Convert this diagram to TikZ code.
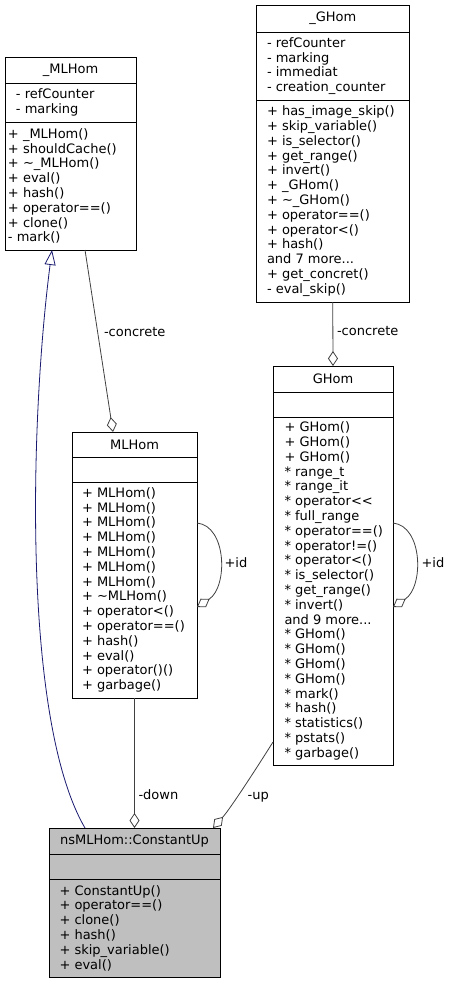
\documentclass[tikz,border=0pt]{standalone}
\usepackage{fontspec}
\setmainfont{DejaVu Sans}
\usetikzlibrary{positioning,arrows.meta,calc}
\definecolor{edgegray}{HTML}{404040}
\definecolor{inhblue}{HTML}{191970}
\definecolor{cupgray}{HTML}{BFBFBF}
\begin{document}
\begin{tikzpicture}[x=1pt, y=-1pt,
    every node/.style = {inner sep=0pt, outer sep=0pt, font=\fontsize{13}{14.8}\selectfont},
    head/.style = {draw, line width=0.9pt, anchor=north, minimum height=26pt},
    part/.style = {draw, line width=0.9pt},
    txt/.style = {align=left},
    lbl/.style = {anchor=west, text height=9.5pt, text depth=2.5pt},
    has/.style = {draw=edgegray, line width=0.8pt, -{Diamond[open, length=15pt, width=10pt]}},
    inherit/.style = {draw=inhblue, line width=0.8pt, -{Triangle[open, length=15pt, width=11pt]}}]
    \useasboundingbox (0,0) rectangle (451,984);
    % _MLHom
    \node[head, minimum width=131pt] (mlbase) at (70.5,57) {\_MLHom};
    \node[part, minimum width=131pt, minimum height=39pt, below=0pt of mlbase] (mlbase-a) {};
    \node[part, minimum width=131pt, minimum height=128pt, below=0pt of mlbase-a] (mlbase-m) {};
    \node[txt, right=11pt of mlbase-a.west] (mlbase-at) {- refCounter\\- marking};
    \node[txt, right=3pt of mlbase-m.west] (mlbase-mt) {+ \_MLHom()\\+ shouldCache()\\+ \textasciitilde\_MLHom()\\+ eval()\\+ hash()\\+ operator==()\\+ clone()\\- mark()};
    % _GHom
    \node[head, minimum width=152.5pt, minimum height=27pt] (ghombase) at (332.75,5) {\_GHom};
    \node[part, minimum width=152.5pt, minimum height=68pt, below=0pt of ghombase] (ghombase-a) {};
    \node[part, minimum width=152.5pt, minimum height=202pt, below=0pt of ghombase-a] (ghombase-m) {};
    \node[txt, right=10.5pt of ghombase-a.west] (ghombase-at) {- refCounter\\- marking\\- immediat\\- creation\_counter};
    \node[txt, right=10.5pt of ghombase-m.west] (ghombase-mt) {+ has\_image\_skip()\\+ skip\_variable()\\+ is\_selector()\\+ get\_range()\\+ invert()\\+ \_GHom()\\+ \textasciitilde\_GHom()\\+ operator==()\\+ operator<()\\+ hash()\\and 7 more...\\+ get\_concret()\\- eval\_skip()};
    % MLHom
    \node[head, minimum width=125pt, minimum height=25pt] (mlhom) at (134.5,432) {MLHom};
    \node[part, minimum width=125pt, minimum height=25pt, below=0pt of mlhom] (mlhom-a) {};
    \node[part, minimum width=125pt, minimum height=216pt, below=0pt of mlhom-a] (mlhom-m) {};
    \node[txt, right=10pt of mlhom-m.west] (mlhom-mt) {+ MLHom()\\+ MLHom()\\+ MLHom()\\+ MLHom()\\+ MLHom()\\+ MLHom()\\+ MLHom()\\+ \textasciitilde MLHom()\\+ operator<()\\+ operator==()\\+ hash()\\+ eval()\\+ operator()()\\+ garbage()};
    % GHom
    \node[head, minimum width=120pt] (ghom) at (333,366) {GHom};
    \node[part, minimum width=120pt, minimum height=25pt, below=0pt of ghom] (ghom-a) {};
    \node[part, minimum width=120pt, minimum height=348pt, below=0pt of ghom-a] (ghom-m) {};
    \node[txt, right=11.5pt of ghom-m.west] (ghom-mt) {+ GHom()\\+ GHom()\\+ GHom()\\* range\_t\\* range\_it\\* operator<{}<\\* full\_range\\* operator==()\\* operator!=()\\* operator<()\\* is\_selector()\\* get\_range()\\* invert()\\and 9 more...\\* GHom()\\* GHom()\\* GHom()\\* GHom()\\* mark()\\* hash()\\* statistics()\\* pstats()\\* garbage()};
    % nsMLHom::ConstantUp
    \node[head, fill=cupgray, minimum width=171pt] (cup) at (134.5,828) {nsMLHom::ConstantUp};
    \node[part, fill=cupgray, minimum width=171pt, minimum height=25pt, below=0pt of cup] (cup-a) {};
    \node[part, fill=cupgray, minimum width=171pt, minimum height=98pt, below=0pt of cup-a] (cup-m) {};
    \node[txt, right=10.5pt of cup-m.west] (cup-mt) {+ ConstantUp()\\+ operator==()\\+ clone()\\+ hash()\\+ skip\_variable()\\+ eval()};
    % relations
    \draw[inherit] ($(cup.north west)+(36,0)$) .. controls (22,720) and (30,420) .. ($(mlbase-m.south west)+(47,0)$);
    \draw[has] ($(mlbase-m.south west)+(80,0)$) -- ($(mlhom.north)+(-21.5,0)$);
    \draw[has] (ghombase-m.south) -- (ghom.north);
    \draw[has] (mlhom-m.south) -- (cup.north);
    \draw[has] ($(ghom-m.south west)+(0,-23)$) .. controls +(-10,16) and +(18,-20) .. ($(cup.north east)+(-7,0)$);
    \draw[has] ([yshift=67pt]mlhom-m.east) .. controls +(30,3) and +(31,-20) .. ([yshift=-17pt]mlhom-m.east);
    \draw[has] ([yshift=68pt]ghom-m.east) .. controls +(30,3) and +(31,-20) .. ([yshift=-16pt]ghom-m.east);
    \node[lbl] (concrete-ml) at (104,332.5) {-concrete};
    \node[lbl] (concrete-g) at (337,332) {-concrete};
    \node[lbl] (id-ml) at (224.5,564) {+id};
    \node[lbl] (id-g) at (421.5,564) {+id};
    \node[lbl] (down) at (138.5,796) {-down};
    \node[lbl] (up) at (247.7,796) {-up};
\end{tikzpicture}
\end{document}
